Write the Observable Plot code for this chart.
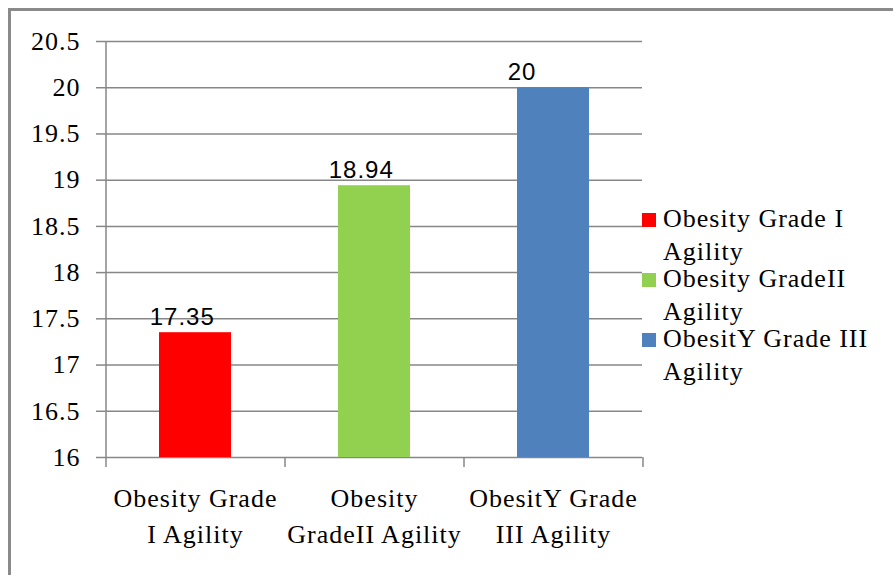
<!DOCTYPE html>
<html><head><meta charset="utf-8">
<script src="https://cdn.jsdelivr.net/npm/d3@7"></script>
<script src="https://cdn.jsdelivr.net/npm/@observablehq/plot@0.6"></script>
<style>
html,body{margin:0;padding:0;background:#fff;overflow:hidden;}
#wrap{position:relative;width:893px;height:575px;overflow:hidden;background:#fff;}
#wrap svg{position:absolute;left:0;top:0;}
#border{position:absolute;left:8px;top:8px;width:1000px;height:1000px;border:3px solid #8a8a8a;box-sizing:border-box;pointer-events:none;}
#legend{position:absolute;left:642px;top:204px;font-family:"Liberation Serif",serif;font-size:26px;line-height:30px;color:#000;white-space:nowrap;letter-spacing:1px;}
.item{position:relative;padding-left:21px;height:60px;}
.item .l2{position:relative;top:3px;}
.sw{position:absolute;left:0;top:9px;width:14px;height:14px;}
</style></head>
<body><div id="wrap"></div>
<script>
const categories = ["Obesity Grade I Agility", "Obesity GradeII Agility", "ObesitY Grade III Agility"];
const values = [17.35, 18.94, 20];
const valueLabels = ["17.35", "18.94", "20"];
const axisLabels = ["Obesity Grade\nI Agility", "Obesity\nGradeII Agility", "ObesitY Grade\nIII Agility"];
const legendLines = [["Obesity Grade I", "Agility"], ["Obesity GradeII", "Agility"], ["ObesitY Grade III", "Agility"]];
const colors = ["#FF0000", "#92D050", "#4F81BD"];
const yTicks = [16, 16.5, 17, 17.5, 18, 18.5, 19, 19.5, 20, 20.5];
const yTickLabels = ["16", "16.5", "17", "17.5", "18", "18.5", "19", "19.5", "20", "20.5"];
const yDomain = [16, 20.5];

const data = categories.map((c, i) => ({cat: c, value: values[i], label: valueLabels[i], axisLabel: axisLabels[i]}));
const ticks = yTicks.map((v, i) => ({v, t: yTickLabels[i]}));

const W = 893, H = 575, ML = 105, MR = 251, MT = 41, MB = 118;
const step = (W - ML - MR) / categories.length;
const barW = step * 0.4;
const frameH = H - MT - MB;
const frameW = W - ML - MR;
const grey = "#878787";
const serif = "'Liberation Serif', 'Times New Roman', serif";

const chart = Plot.plot({
  width: W, height: H,
  marginLeft: ML, marginRight: MR, marginTop: MT, marginBottom: MB,
  style: {fontFamily: serif, fontSize: "26px", background: "transparent", color: "#000", letterSpacing: "1px"},
  x: {type: "band", domain: categories, paddingInner: 0.6, paddingOuter: 0.3, axis: null},
  y: {domain: yDomain, axis: null},
  color: {domain: categories, range: colors},
  marks: [
    Plot.ruleY(yTicks, {stroke: grey, strokeWidth: 1.5}),
    // y tick marks
    Plot.ruleY(yTicks, {stroke: grey, strokeWidth: 1.5, insetLeft: -9, insetRight: frameW}),
    Plot.barY(data, {x: "cat", y1: yDomain[0], y2: "value", fill: "cat"}),
    // y axis line
    Plot.ruleX([categories[0]], {x: d => d, dx: -step / 2, stroke: grey, strokeWidth: 1.5}),
    // category ticks at band boundaries
    Plot.ruleX(categories, {x: d => d, dx: -step / 2, stroke: grey, strokeWidth: 1.5, insetTop: frameH, insetBottom: -10}),
    Plot.ruleX([categories[categories.length - 1]], {x: d => d, dx: step / 2, stroke: grey, strokeWidth: 1.5, insetTop: frameH, insetBottom: -10}),
    // y tick labels
    Plot.text(ticks, {y: "v", text: "t", frameAnchor: "left", textAnchor: "end", dx: -25, fontSize: 26, fontFamily: serif, fill: "#000"}),
    // value labels
    Plot.text(data, {x: "cat", y: "value", text: "label", textAnchor: "start", dx: -(barW / 2 + 10), dy: -8, lineAnchor: "bottom", fontFamily: "'Liberation Sans', sans-serif", fontSize: 24, fill: "#000"}),
    // category labels
    Plot.text(data, {x: "cat", text: "axisLabel", frameAnchor: "bottom", lineAnchor: "top", dy: 24, lineHeight: 1.385, fontSize: 26, fontFamily: serif, fill: "#000"})
  ]
});

const wrap = document.getElementById("wrap");
wrap.appendChild(chart);

const legend = document.createElement("div");
legend.id = "legend";
legendLines.forEach((lines, i) => {
  const item = document.createElement("div");
  item.className = "item";
  const sw = document.createElement("div");
  sw.className = "sw";
  sw.style.background = colors[i];
  item.appendChild(sw);
  lines.forEach((t, j) => {
    const l = document.createElement("div");
    if (j) l.className = "l2";
    l.textContent = t;
    item.appendChild(l);
  });
  legend.appendChild(item);
});
wrap.appendChild(legend);

const border = document.createElement("div");
border.id = "border";
wrap.appendChild(border);
</script>
</body></html>
